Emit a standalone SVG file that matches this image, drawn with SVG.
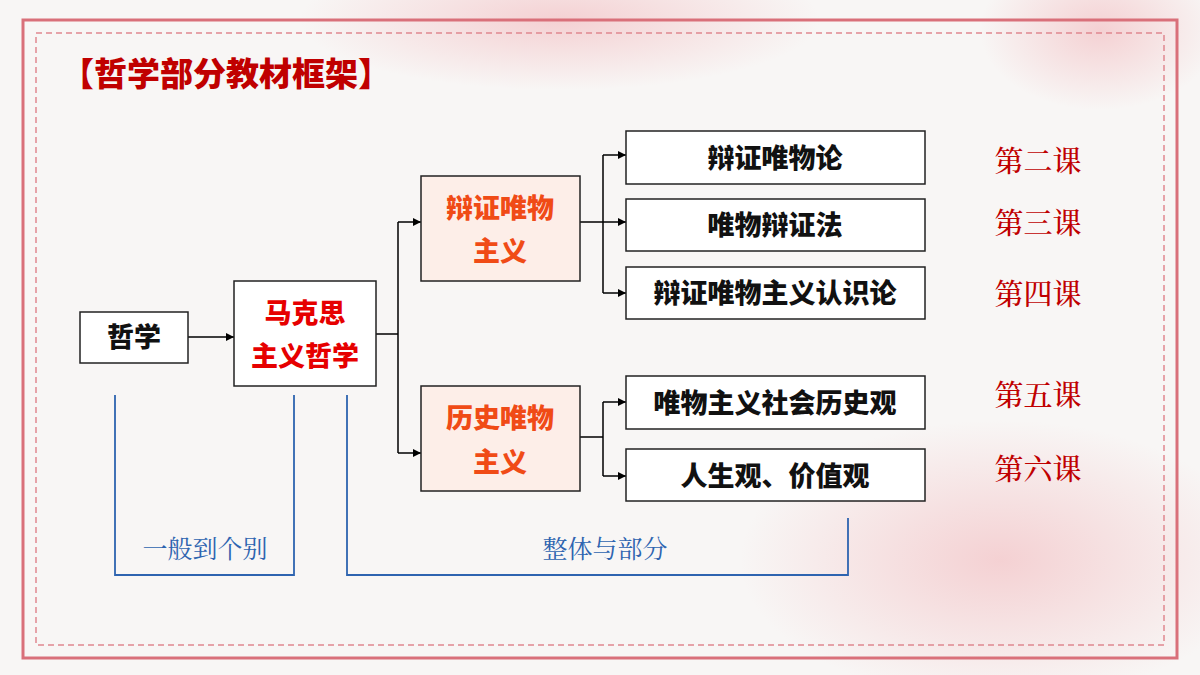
<svg xmlns="http://www.w3.org/2000/svg" width="1200" height="675" viewBox="0 0 1200 675">
<defs>
<marker id="ah" markerWidth="8" markerHeight="8" refX="8" refY="4" orient="auto" markerUnits="userSpaceOnUse"><path d="M0,0 L8,4 L0,8 z" fill="#000"/></marker>
<radialGradient id="pk1" cx="0.5" cy="0.5" r="0.5"><stop offset="0" stop-color="#f2b8bc" stop-opacity="0.6"/><stop offset="1" stop-color="#f2b8bc" stop-opacity="0"/></radialGradient>
</defs>
<style>
.box{fill:#fff;stroke:#222;stroke-width:1.5}
.mid{fill:#fdeee8;stroke:#222;stroke-width:1.5}
.t{font-family:"Noto Sans CJK SC",sans-serif;font-weight:900;font-size:27px;text-anchor:middle;fill:#111}
.r{fill:#e60000}
.o{fill:#f04b16}
.lesson{font-family:"Noto Serif CJK SC","Noto Sans CJK SC",serif;font-size:29px;font-weight:500;fill:#c00000;text-anchor:middle}
.bl{font-family:"Noto Serif CJK SC","Noto Sans CJK SC",serif;font-size:25px;fill:#2e64b0;text-anchor:middle}
.c{fill:none;stroke:#000;stroke-width:1.5}
.br{fill:none;stroke:#2e64b0;stroke-width:1.8}
</style>
<rect width="1200" height="675" fill="#f8f6f5"/>
<ellipse cx="560" cy="20" rx="260" ry="70" fill="url(#pk1)"/>
<ellipse cx="1000" cy="560" rx="260" ry="140" fill="url(#pk1)"/>
<ellipse cx="1100" cy="30" rx="120" ry="80" fill="url(#pk1)"/>
<rect x="23" y="20" width="1154" height="638" fill="none" stroke="#d9707a" stroke-width="3"/>
<rect x="36" y="33" width="1128" height="612" fill="none" stroke="#e08890" stroke-width="1.5" stroke-dasharray="6,4"/>
<text x="226" y="86" font-family="Noto Sans CJK SC,sans-serif" font-weight="900" font-size="33" fill="#c00000" text-anchor="middle">【哲学部分教材框架】</text>
<g id="connectors">
<path class="c" d="M188,337 H234" marker-end="url(#ah)"/>
<path class="c" d="M376,334 H398 M398,222 V453"/>
<path class="c" d="M398,222 H421" marker-end="url(#ah)"/>
<path class="c" d="M398,453 H421" marker-end="url(#ah)"/>
<path class="c" d="M580,222 H603 M603,155 V293"/>
<path class="c" d="M603,155 H626" marker-end="url(#ah)"/>
<path class="c" d="M603,222 H626" marker-end="url(#ah)"/>
<path class="c" d="M603,293 H626" marker-end="url(#ah)"/>
<path class="c" d="M580,437 H603 M603,402 V476"/>
<path class="c" d="M603,402 H626" marker-end="url(#ah)"/>
<path class="c" d="M603,476 H626" marker-end="url(#ah)"/>
<path class="br" d="M115,395 V575 H294 V395"/>
<path class="br" d="M347,395 V575 H848 V518"/>
</g>
<g id="n-zhexue"><rect class="box" x="80" y="312" width="108" height="51"/><text class="t" x="134" y="347">哲学</text></g>
<g id="n-makesi"><rect class="box" x="234" y="281" width="142" height="105"/><text class="t r" x="305" y="323">马克思</text><text class="t r" x="305" y="366">主义哲学</text></g>
<g id="n-bianzheng"><rect class="mid" x="421" y="176" width="159" height="105"/><text class="t o" x="500" y="218">辩证唯物</text><text class="t o" x="500" y="261">主义</text></g>
<g id="n-lishi"><rect class="mid" x="421" y="386" width="159" height="105"/><text class="t o" x="500" y="428">历史唯物</text><text class="t o" x="500" y="472">主义</text></g>
<g id="n-1"><rect class="box" x="626" y="131" width="299" height="53"/><text class="t" x="775" y="168">辩证唯物论</text></g>
<g id="n-2"><rect class="box" x="626" y="199" width="299" height="52"/><text class="t" x="775" y="235">唯物辩证法</text></g>
<g id="n-3"><rect class="box" x="626" y="267" width="299" height="52"/><text class="t" x="775" y="303">辩证唯物主义认识论</text></g>
<g id="n-4"><rect class="box" x="626" y="376" width="299" height="53"/><text class="t" x="775" y="413">唯物主义社会历史观</text></g>
<g id="n-5"><rect class="box" x="626" y="449" width="299" height="52"/><text class="t" x="775" y="486">人生观、价值观</text></g>
<text class="lesson" x="1038" y="172">第二课</text>
<text class="lesson" x="1038" y="234">第三课</text>
<text class="lesson" x="1038" y="305">第四课</text>
<text class="lesson" x="1038" y="406">第五课</text>
<text class="lesson" x="1038" y="480">第六课</text>
<text class="bl" x="205" y="558">一般到个别</text>
<text class="bl" x="605" y="558">整体与部分</text>
</svg>
